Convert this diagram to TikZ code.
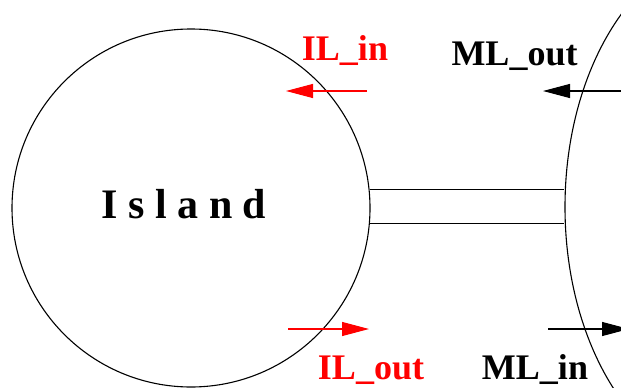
\documentclass[tikz,border=0pt]{standalone}
\usepackage{fontspec}
\setmainfont{Liberation Serif}
\usetikzlibrary{shapes.geometric,arrows.meta}
\tikzset{
  outline/.style={draw=black, line width=1.1pt},
  flow/.style={line width=1.1pt, -{Triangle[length=27pt,width=14pt]}},
  lbl/.style={font=\bfseries\fontsize{36}{40}\selectfont, anchor=base, inner sep=0pt},
}
\begin{document}
\begin{tikzpicture}[x=1pt,y=-1pt]
\useasboundingbox (0,0) rectangle (621,388);
\clip (0,0) rectangle (621,388);
\node[outline, circle, minimum size=358pt, inner sep=0pt] (island) at (191,208) {};
\node[outline, ellipse, minimum width=342pt, minimum height=520pt, inner sep=0pt] (lake) at (736,207) {};
\node[font=\bfseries\fontsize{42}{46}\selectfont, anchor=base, inner sep=0pt] (islandlbl) at (184,218) {I s l a n d};
% channel
\draw[line width=1.1pt] (island.6.4) -- (island.6.4 -| lake.west);
\draw[line width=1.1pt] (island.-5.1) -- (island.-5.1 -| lake.west);
% arrows
\coordinate (ilinS) at (367,91);
\coordinate (ilinE) at (286,91);
\coordinate (iloutS) at (288,329);
\coordinate (iloutE) at (369,329);
\coordinate (mloutS) at (630,91);
\coordinate (mloutE) at (543,91);
\coordinate (mlinS) at (548,329);
\coordinate (mlinE) at (629,329);
\draw[flow, red] (ilinS) -- (ilinE);
\draw[flow, red] (iloutS) -- (iloutE);
\draw[flow] (mloutS) -- (mloutE);
\draw[flow] (mlinS) -- (mlinE);
% labels
\node[lbl, red] (ilin) at (345,60) {IL\_in};
\node[lbl] (mlout) at (514.5,65) {ML\_out};
\node[lbl, red] (ilout) at (371,379) {IL\_out};
\node[lbl] (mlin) at (535,379) {ML\_in};
\end{tikzpicture}
\end{document}
